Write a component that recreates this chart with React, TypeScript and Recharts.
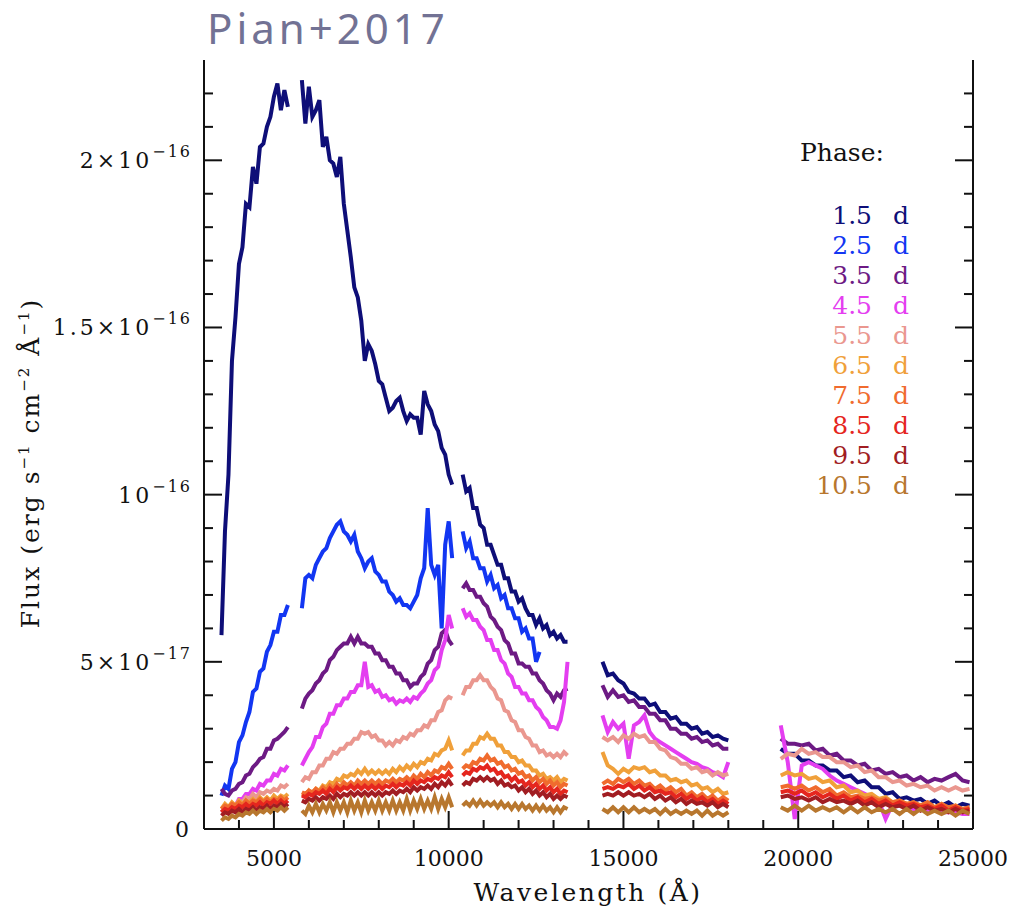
import React from 'react'
import { Legend, Line, LineChart, XAxis, YAxis } from 'recharts'

// wavelength samples (Å) of each spectral chunk; nothing is drawn between chunks
const wlChunk1 = [3500, 3600, 3700, 3800, 3900, 4000, 4100, 4200, 4300, 4400, 4500, 4600, 4700, 4800, 4900, 5000, 5100, 5200, 5300, 5400]
const wlChunk2 = [5800, 5900, 6000, 6100, 6200, 6300, 6400, 6500, 6600, 6700, 6800, 6900, 7000, 7100, 7200, 7300, 7400, 7500, 7600, 7700, 7800, 7900, 8000, 8100, 8200, 8300, 8400, 8500, 8600, 8700, 8800, 8900, 9000, 9100, 9200, 9300, 9400, 9500, 9600, 9700, 9800, 9900, 10000, 10100]
const wlChunk3 = [10400, 10500, 10600, 10700, 10800, 10900, 11000, 11100, 11200, 11300, 11400, 11500, 11600, 11700, 11800, 11900, 12000, 12100, 12200, 12300, 12400, 12500, 12600, 12700, 12800, 12900, 13000, 13100, 13200, 13300, 13400]
const wlChunk4 = [14400, 14550, 14700, 14850, 15000, 15150, 15300, 15450, 15600, 15750, 15900, 16050, 16200, 16350, 16500, 16650, 16800, 16950, 17100, 17250, 17400, 17550, 17700, 17850, 18000]
const wlChunk5 = [19500, 19700, 19900, 20100, 20300, 20500, 20700, 20900, 21100, 21300, 21500, 21700, 21900, 22100, 22300, 22500, 22700, 22900, 23100, 23300, 23500, 23700, 23900, 24100, 24300, 24500, 24700, 24900]
const wlChunks = [wlChunk1, wlChunk2, wlChunk3, wlChunk4, wlChunk5]

// flux density per chunk, in units of 1e-17 erg s^-1 cm^-2 Å^-1
const flux1p5 = [
  [5.8, 8.9, 10.6, 14.0, 15.3, 16.9, 17.4, 18.7, 18.6, 19.8, 19.3, 20.4, 20.5, 21.0, 21.3, 21.9, 22.3, 21.5, 22.1, 21.6],
  [22.4, 21.1, 22.2, 21.3, 21.5, 21.8, 20.4, 20.7, 20.0, 19.9, 19.5, 20.1, 18.7, 17.9, 17.1, 16.2, 15.9, 15.2, 14.0, 14.5, 14.3, 13.9, 13.4, 13.3, 12.9, 12.5, 12.6, 12.8, 12.9, 12.5, 12.2, 12.4, 12.3, 12.3, 11.8, 13.1, 12.7, 12.5, 12.1, 11.9, 11.4, 11.2, 10.6, 10.3],
  [10.6, 10.1, 10.2, 9.6, 9.6, 9.1, 9.0, 8.5, 8.5, 8.2, 7.9, 7.9, 7.5, 7.5, 7.1, 7.1, 6.8, 6.9, 6.6, 6.4, 6.4, 6.1, 6.3, 6.0, 6.1, 5.8, 5.9, 5.7, 5.8, 5.6, 5.6],
  [5.0, 4.6, 4.65, 4.45, 4.35, 4.1, 4.05, 3.9, 3.9, 3.7, 3.75, 3.5, 3.5, 3.3, 3.35, 3.15, 3.15, 3.0, 3.05, 2.85, 2.9, 2.75, 2.8, 2.7, 2.65],
  [2.4, 2.25, 2.25, 2.05, 2.05, 1.9, 1.9, 1.75, 1.75, 1.55, 1.6, 1.4, 1.45, 1.25, 1.25, 1.05, 1.1, 0.9, 0.95, 0.85, 0.9, 0.75, 0.85, 0.7, 0.8, 0.65, 0.75, 0.7],
]
const flux2p5 = [
  [1.0, 1.3, 1.2, 1.8, 2.0, 2.6, 2.8, 3.2, 3.5, 4.1, 4.2, 4.7, 4.8, 5.3, 5.5, 5.9, 5.9, 6.4, 6.4, 6.7],
  [6.6, 7.5, 7.6, 7.5, 7.9, 8.1, 8.3, 8.4, 8.7, 8.9, 9.1, 9.2, 8.9, 8.8, 8.6, 8.8, 8.3, 8.1, 7.8, 8.0, 8.1, 7.7, 7.6, 7.4, 7.4, 7.1, 7.0, 6.8, 6.9, 6.7, 6.7, 6.6, 6.8, 7.0, 7.5, 7.8, 9.6, 7.9, 7.6, 7.9, 6.0, 8.5, 9.2, 8.1],
  [8.9, 8.4, 8.6, 8.1, 8.1, 7.8, 7.8, 7.4, 7.6, 7.2, 7.3, 6.9, 7.0, 6.6, 6.6, 6.3, 6.3, 5.9, 6.0, 5.7, 5.7, 5.0, 5.3],
  [],
  [],
]
const flux3p5 = [
  [1.2, 1.05, 1.0, 1.15, 1.2, 1.35, 1.4, 1.6, 1.65, 1.85, 1.95, 2.1, 2.15, 2.4, 2.4, 2.65, 2.7, 2.8, 2.9, 3.05],
  [3.6, 3.9, 4.05, 4.15, 4.35, 4.45, 4.65, 4.75, 5.05, 5.15, 5.35, 5.45, 5.55, 5.55, 5.75, 5.55, 5.75, 5.55, 5.55, 5.45, 5.45, 5.25, 5.25, 5.05, 5.05, 4.85, 4.85, 4.65, 4.65, 4.45, 4.45, 4.25, 4.35, 4.35, 4.55, 4.65, 4.95, 5.05, 5.35, 5.45, 5.85, 5.95, 5.65, 5.5],
  [7.2, 7.35, 7.15, 7.15, 6.95, 6.95, 6.75, 6.65, 6.35, 6.25, 6.05, 5.95, 5.65, 5.55, 5.25, 5.25, 4.95, 4.95, 4.85, 4.85, 4.65, 4.65, 4.45, 4.35, 4.15, 4.05, 3.85, 4.05, 3.95, 4.15, 4.2],
  [4.3, 3.95, 4.15, 3.95, 4.0, 3.8, 3.85, 3.65, 3.65, 3.45, 3.45, 3.25, 3.25, 3.0, 3.0, 2.85, 2.85, 2.7, 2.75, 2.6, 2.65, 2.5, 2.55, 2.4, 2.4],
  [2.7, 2.55, 2.55, 2.5, 2.55, 2.35, 2.4, 2.2, 2.25, 2.05, 2.05, 1.9, 1.95, 1.75, 1.8, 1.65, 1.7, 1.55, 1.6, 1.45, 1.55, 1.4, 1.5, 1.45, 1.55, 1.65, 1.45, 1.4],
]
const flux4p5 = [
  [0.5, 0.6, 0.55, 0.75, 0.7, 0.9, 0.9, 1.05, 1.05, 1.2, 1.15, 1.35, 1.3, 1.45, 1.45, 1.65, 1.6, 1.8, 1.75, 1.9],
  [1.9, 2.1, 2.3, 2.45, 2.75, 2.75, 3.05, 3.15, 3.45, 3.45, 3.7, 3.7, 3.9, 3.9, 4.1, 4.1, 4.3, 4.3, 5.0, 4.25, 4.3, 4.1, 4.15, 3.95, 4.0, 3.85, 3.9, 3.75, 3.85, 3.8, 3.9, 3.8, 3.95, 3.9, 4.05, 4.15, 4.35, 4.45, 4.75, 4.85, 5.35, 5.65, 6.4, 6.0],
  [6.6, 6.35, 6.45, 6.25, 6.25, 6.05, 5.95, 5.65, 5.65, 5.35, 5.35, 5.05, 4.95, 4.65, 4.55, 4.25, 4.25, 4.05, 4.05, 3.85, 3.85, 3.65, 3.55, 3.35, 3.25, 3.05, 3.05, 3.0, 3.25, 3.8, 5.0],
  [3.4, 2.9, 3.2, 3.0, 3.15, 2.1, 3.1, 3.2, 3.4, 2.9, 2.7, 2.6, 2.5, 2.4, 2.3, 2.2, 2.1, 2.0, 1.95, 1.85, 1.8, 1.7, 1.65, 1.55, 2.0],
  [3.1, 2.0, 0.3, 1.9, 2.0, 1.9, 1.8, 1.6, 1.45, 1.35, 1.25, 1.15, 1.05, 0.95, 0.85, 0.3, 0.75, 0.7, 0.65, 0.6, 0.6, 0.55, 0.55, 0.5, 0.5, 0.5, 0.45, 0.45],
]
const flux5p5 = [
  [0.5, 0.6, 0.55, 0.7, 0.65, 0.85, 0.8, 0.95, 0.9, 1.05, 0.95, 1.1, 1.05, 1.15, 1.1, 1.2, 1.15, 1.3, 1.25, 1.35],
  [1.4, 1.55, 1.5, 1.7, 1.7, 1.9, 1.9, 2.1, 2.1, 2.3, 2.25, 2.4, 2.4, 2.55, 2.55, 2.7, 2.7, 2.9, 2.85, 2.9, 2.75, 2.8, 2.65, 2.65, 2.5, 2.6, 2.5, 2.65, 2.6, 2.75, 2.7, 2.85, 2.8, 2.95, 2.95, 3.1, 3.05, 3.25, 3.25, 3.5, 3.55, 3.85, 3.95, 3.9],
  [4.0, 4.25, 4.25, 4.45, 4.45, 4.6, 4.45, 4.45, 4.25, 4.15, 3.9, 3.85, 3.55, 3.5, 3.25, 3.2, 2.95, 2.95, 2.75, 2.7, 2.5, 2.5, 2.3, 2.35, 2.2, 2.25, 2.15, 2.25, 2.15, 2.3, 2.2],
  [2.75, 2.65, 2.75, 2.6, 2.8, 2.7, 2.85, 2.75, 2.8, 2.6, 2.6, 2.4, 2.35, 2.15, 2.1, 1.95, 1.95, 1.8, 1.85, 1.7, 1.75, 1.6, 1.7, 1.6, 1.65],
  [2.1, 2.25, 2.2, 2.4, 2.25, 2.3, 2.15, 2.15, 2.0, 2.0, 1.85, 1.9, 1.7, 1.75, 1.55, 1.55, 1.4, 1.45, 1.3, 1.35, 1.25, 1.3, 1.15, 1.25, 1.15, 1.25, 1.15, 1.2],
]
const flux6p5 = [
  [0.6, 0.75, 0.65, 0.8, 0.7, 0.85, 0.75, 0.85, 0.8, 0.9, 0.8, 0.95, 0.85, 0.95, 0.85, 1.0, 0.9, 1.0, 0.95, 1.05],
  [1.05, 1.0, 1.15, 1.05, 1.2, 1.15, 1.3, 1.25, 1.4, 1.35, 1.5, 1.45, 1.6, 1.55, 1.65, 1.6, 1.75, 1.65, 1.8, 1.65, 1.75, 1.65, 1.75, 1.65, 1.75, 1.65, 1.8, 1.7, 1.85, 1.75, 1.9, 1.8, 1.95, 1.85, 2.0, 1.95, 2.1, 2.05, 2.25, 2.2, 2.35, 2.4, 2.65, 2.35],
  [2.2, 2.35, 2.35, 2.55, 2.55, 2.75, 2.7, 2.85, 2.7, 2.7, 2.5, 2.5, 2.3, 2.3, 2.15, 2.15, 2.0, 2.05, 1.9, 1.9, 1.75, 1.75, 1.6, 1.65, 1.5, 1.55, 1.45, 1.55, 1.4, 1.5, 1.45],
  [2.3, 1.9, 1.8, 1.65, 1.8, 1.7, 1.85, 1.8, 1.85, 1.7, 1.75, 1.6, 1.6, 1.45, 1.5, 1.4, 1.45, 1.3, 1.35, 1.2, 1.25, 1.1, 1.2, 1.05, 1.1],
  [1.6, 1.7, 1.6, 1.65, 1.5, 1.55, 1.4, 1.45, 1.25, 1.3, 1.1, 1.15, 1.0, 1.05, 0.9, 0.95, 0.8, 0.85, 0.75, 0.8, 0.7, 0.8, 0.65, 0.75, 0.6, 0.7, 0.55, 0.65],
]
const flux7p5 = [
  [0.6, 0.7, 0.65, 0.75, 0.7, 0.8, 0.7, 0.85, 0.75, 0.85, 0.8, 0.9, 0.8, 0.9, 0.8, 0.9, 0.85, 0.95, 0.85, 0.95],
  [1.1, 1.05, 1.15, 1.1, 1.2, 1.1, 1.25, 1.15, 1.3, 1.2, 1.35, 1.25, 1.4, 1.3, 1.4, 1.3, 1.45, 1.35, 1.45, 1.35, 1.45, 1.35, 1.45, 1.35, 1.45, 1.4, 1.5, 1.4, 1.5, 1.45, 1.55, 1.45, 1.6, 1.5, 1.65, 1.55, 1.7, 1.6, 1.75, 1.7, 1.85, 1.8, 1.95, 1.8],
  [1.8, 1.9, 1.85, 2.0, 1.95, 2.1, 2.05, 2.2, 2.05, 2.1, 1.95, 2.0, 1.85, 1.9, 1.75, 1.8, 1.65, 1.7, 1.55, 1.6, 1.45, 1.55, 1.4, 1.5, 1.35, 1.45, 1.3, 1.4, 1.25, 1.35, 1.3],
  [1.35, 1.45, 1.35, 1.5, 1.4, 1.5, 1.35, 1.45, 1.3, 1.35, 1.2, 1.3, 1.15, 1.25, 1.1, 1.2, 1.0, 1.1, 0.95, 1.05, 0.9, 1.0, 0.85, 0.95, 0.85],
  [1.25, 1.3, 1.2, 1.3, 1.15, 1.25, 1.1, 1.2, 1.0, 1.1, 0.95, 1.0, 0.9, 0.95, 0.85, 0.9, 0.8, 0.85, 0.75, 0.8, 0.7, 0.8, 0.65, 0.75, 0.65, 0.7, 0.6, 0.65],
]
const flux8p5 = [
  [0.5, 0.6, 0.55, 0.65, 0.6, 0.7, 0.65, 0.75, 0.65, 0.75, 0.7, 0.8, 0.7, 0.8, 0.75, 0.85, 0.75, 0.85, 0.75, 0.85],
  [1.0, 0.95, 1.05, 1.0, 1.1, 1.05, 1.15, 1.05, 1.2, 1.1, 1.25, 1.15, 1.25, 1.2, 1.3, 1.2, 1.3, 1.2, 1.3, 1.2, 1.3, 1.2, 1.3, 1.2, 1.3, 1.25, 1.35, 1.25, 1.35, 1.3, 1.4, 1.3, 1.45, 1.35, 1.45, 1.4, 1.5, 1.45, 1.55, 1.5, 1.6, 1.55, 1.7, 1.55],
  [1.6, 1.7, 1.65, 1.8, 1.75, 1.85, 1.8, 1.9, 1.75, 1.8, 1.65, 1.7, 1.55, 1.6, 1.45, 1.55, 1.4, 1.45, 1.3, 1.4, 1.25, 1.35, 1.2, 1.3, 1.15, 1.25, 1.1, 1.2, 1.05, 1.15, 1.1],
  [1.2, 1.25, 1.2, 1.3, 1.25, 1.35, 1.2, 1.3, 1.15, 1.25, 1.1, 1.15, 1.05, 1.1, 0.95, 1.05, 0.9, 1.0, 0.85, 0.95, 0.8, 0.9, 0.75, 0.85, 0.75],
  [1.1, 1.15, 1.05, 1.15, 1.0, 1.1, 0.95, 1.05, 0.9, 1.0, 0.85, 0.95, 0.8, 0.9, 0.75, 0.85, 0.7, 0.8, 0.7, 0.75, 0.65, 0.7, 0.6, 0.7, 0.55, 0.65, 0.55, 0.6],
]
const flux9p5 = [
  [0.4, 0.5, 0.45, 0.55, 0.5, 0.6, 0.5, 0.6, 0.55, 0.65, 0.55, 0.65, 0.6, 0.7, 0.6, 0.7, 0.65, 0.75, 0.65, 0.75],
  [0.85, 0.8, 0.9, 0.85, 0.95, 0.85, 0.95, 0.9, 1.0, 0.9, 1.05, 0.95, 1.05, 1.0, 1.1, 1.0, 1.1, 1.0, 1.1, 1.0, 1.1, 1.0, 1.1, 1.0, 1.1, 1.05, 1.15, 1.05, 1.15, 1.1, 1.2, 1.1, 1.25, 1.15, 1.25, 1.2, 1.3, 1.2, 1.35, 1.25, 1.4, 1.3, 1.45, 1.3],
  [1.3, 1.4, 1.35, 1.5, 1.45, 1.55, 1.45, 1.55, 1.45, 1.5, 1.35, 1.45, 1.3, 1.35, 1.25, 1.3, 1.15, 1.25, 1.1, 1.2, 1.05, 1.15, 1.0, 1.1, 0.95, 1.05, 0.9, 1.0, 0.9, 1.0, 0.95],
  [1.0, 1.05, 1.0, 1.1, 1.0, 1.1, 1.0, 1.05, 0.95, 1.05, 0.9, 1.0, 0.85, 0.95, 0.8, 0.9, 0.75, 0.85, 0.75, 0.8, 0.7, 0.8, 0.65, 0.75, 0.65],
  [0.95, 1.0, 0.9, 0.95, 0.85, 0.95, 0.8, 0.9, 0.8, 0.85, 0.75, 0.85, 0.7, 0.8, 0.65, 0.75, 0.65, 0.7, 0.6, 0.7, 0.55, 0.65, 0.55, 0.6, 0.5, 0.6, 0.5, 0.55],
]
const flux10p5 = [
  [0.25, 0.35, 0.3, 0.4, 0.35, 0.45, 0.4, 0.5, 0.45, 0.55, 0.45, 0.55, 0.5, 0.6, 0.5, 0.6, 0.55, 0.65, 0.55, 0.65],
  [0.55, 0.45, 0.7, 0.5, 0.75, 0.5, 0.75, 0.55, 0.8, 0.5, 0.8, 0.55, 0.8, 0.5, 0.85, 0.55, 0.8, 0.5, 0.85, 0.55, 0.8, 0.55, 0.85, 0.55, 0.8, 0.55, 0.85, 0.55, 0.8, 0.55, 0.9, 0.55, 0.85, 0.6, 0.9, 0.6, 0.85, 0.6, 0.95, 0.6, 0.9, 0.65, 0.95, 0.65],
  [0.7, 0.8, 0.7, 0.85, 0.7, 0.85, 0.7, 0.8, 0.7, 0.8, 0.65, 0.8, 0.65, 0.75, 0.6, 0.75, 0.6, 0.75, 0.6, 0.7, 0.55, 0.7, 0.55, 0.7, 0.55, 0.65, 0.5, 0.65, 0.5, 0.65, 0.6],
  [0.6, 0.5, 0.65, 0.5, 0.65, 0.5, 0.65, 0.5, 0.6, 0.5, 0.6, 0.45, 0.6, 0.45, 0.55, 0.45, 0.55, 0.45, 0.55, 0.4, 0.55, 0.4, 0.5, 0.4, 0.5],
  [0.65, 0.55, 0.7, 0.55, 0.7, 0.55, 0.65, 0.55, 0.65, 0.5, 0.65, 0.5, 0.65, 0.5, 0.6, 0.5, 0.6, 0.45, 0.6, 0.45, 0.6, 0.45, 0.55, 0.45, 0.55, 0.4, 0.55, 0.45],
]

const phaseLabels = ['1.5', '2.5', '3.5', '4.5', '5.5', '6.5', '7.5', '8.5', '9.5', '10.5']
const phaseFlux = [flux1p5, flux2p5, flux3p5, flux4p5, flux5p5, flux6p5, flux7p5, flux8p5, flux9p5, flux10p5]
const phaseColors = ['#0e0e78', '#1236f2', '#6d1a84', '#e43ef0', '#ea978f', '#f0a03a', '#f06b2e', '#e5261e', '#a11d22', '#b8772e']

const xTicks = [4000, 5000, 6000, 7000, 8000, 9000, 10000, 11000, 12000, 13000, 14000, 15000, 16000, 17000, 18000, 19000, 20000, 21000, 22000, 23000, 24000, 25000]
const yTicks = [0, 1, 2, 3, 4, 5, 6, 7, 8, 9, 10, 11, 12, 13, 14, 15, 16, 17, 18, 19, 20, 21, 22]
// labelled y ticks: mantissa text and power of ten
const yTickText: Record<number, [string, string]> = {
  0: ['0', ''],
  5: ['5×10', '−17'],
  10: ['10', '−16'],
  15: ['1.5×10', '−16'],
  20: ['2×10', '−16'],
}

const keys = phaseLabels.map((_, i) => `p${i}`)

// one table for all phases, with an empty row after each chunk so the lines break
const rows: Record<string, number | null>[] = []
wlChunks.forEach((wls, c) => {
  wls.forEach((wl, i) => {
    const row: Record<string, number | null> = { wl }
    phaseFlux.forEach((f, p) => {
      row[keys[p]] = f[c][i] ?? null
    })
    rows.push(row)
  })
  if (c < wlChunks.length - 1) {
    const gap: Record<string, number | null> = { wl: wls[wls.length - 1] + 50 }
    keys.forEach((k) => (gap[k] = null))
    rows.push(gap)
  }
})

const FONT = '"DejaVu Serif", serif'
const INK = '#111'
const MAJOR = 18
const MINOR = 9

const BottomTick = (props: any) => {
  const { x, y, payload } = props
  const major = payload.value % 5000 === 0
  return (
    <g>
      <line x1={x} y1={y} x2={x} y2={y - (major ? MAJOR : MINOR)} stroke={INK} strokeWidth={2} />
      {major && (
        <text x={x} y={y + 37} textAnchor="middle" fontFamily={FONT} fontSize={22} fill={INK}>
          {payload.value}
        </text>
      )}
    </g>
  )
}

const TopTick = (props: any) => {
  const { x, y, payload } = props
  const major = payload.value % 5000 === 0
  return <line x1={x} y1={y} x2={x} y2={y + (major ? MAJOR : MINOR)} stroke={INK} strokeWidth={2} />
}

const LeftTick = (props: any) => {
  const { x, y, payload } = props
  const label = yTickText[payload.value]
  return (
    <g>
      <line x1={x} y1={y} x2={x + (label ? MAJOR : MINOR)} y2={y} stroke={INK} strokeWidth={2} />
      {label && (
        <text x={x - 12} y={y + 8} textAnchor="end" fontFamily={FONT} fontSize={22} letterSpacing={3} fill={INK}>
          <tspan>{label[0]}</tspan>
          {label[1] && (
            <tspan dy={-11} fontSize={16} letterSpacing={2}>
              {label[1]}
            </tspan>
          )}
        </text>
      )}
    </g>
  )
}

const RightTick = (props: any) => {
  const { x, y, payload } = props
  const major = payload.value % 5 === 0
  return <line x1={x} y1={y} x2={x - (major ? MAJOR : MINOR)} y2={y} stroke={INK} strokeWidth={2} />
}

// phase list in plotting order, drawn in the series colours
const PhaseLegend = () => (
  <svg width={150} height={380}>
    <text x={10} y={31} fontFamily={FONT} fontSize={25} fill={INK}>
      Phase:
    </text>
    {phaseLabels.map((label, i) => (
      <g key={label} fill={phaseColors[i]} fontFamily={FONT} fontSize={25}>
        <text x={82} y={94 + i * 30} textAnchor="end">
          {label}
        </text>
        <text x={103} y={94 + i * 30}>
          d
        </text>
      </g>
    ))}
  </svg>
)

const axisLine = { stroke: INK, strokeWidth: 2 }

export default function App() {
  return (
    <div style={{ position: 'relative', width: 1000, height: 900 }}>
      <div
        style={{
          position: 'absolute',
          left: 199,
          top: -1,
          fontFamily: '"Noto Sans", sans-serif',
          fontSize: 42,
          lineHeight: 1,
          letterSpacing: 4,
          color: '#727294',
        }}
      >
        Pian+2017
      </div>
      <LineChart width={1000} height={900} data={rows} margin={{ top: 52, right: 0, bottom: 0, left: 0 }}>
        <XAxis
          xAxisId="bottom"
          dataKey="wl"
          type="number"
          domain={[3000, 25000]}
          ticks={xTicks}
          interval={0}
          height={79}
          tickSize={0}
          tickMargin={0}
          tickLine={false}
          axisLine={axisLine}
          tick={<BottomTick />}
        />
        <XAxis
          xAxisId="top"
          orientation="top"
          dataKey="wl"
          type="number"
          domain={[3000, 25000]}
          ticks={xTicks}
          interval={0}
          height={0}
          tickSize={0}
          tickMargin={0}
          tickLine={false}
          axisLine={axisLine}
          tick={<TopTick />}
        />
        <YAxis
          yAxisId="left"
          type="number"
          domain={[0, 23]}
          ticks={yTicks}
          interval={0}
          width={196}
          tickSize={0}
          tickMargin={0}
          tickLine={false}
          axisLine={axisLine}
          tick={<LeftTick />}
        />
        <YAxis
          yAxisId="right"
          orientation="right"
          type="number"
          domain={[0, 23]}
          ticks={yTicks}
          interval={0}
          width={35}
          tickSize={0}
          tickMargin={0}
          tickLine={false}
          axisLine={axisLine}
          tick={<RightTick />}
        />
        <Legend
          layout="horizontal"
          verticalAlign="middle"
          align="center"
          wrapperStyle={{ position: 'absolute', left: 782, top: 122, width: 150, height: 380 }}
          content={<PhaseLegend />}
        />
        {/* invisible copy of the first spectrum, so the top and right frame axes get a scale */}
        <Line
          xAxisId="top"
          yAxisId="right"
          dataKey={keys[0]}
          stroke="none"
          strokeWidth={0}
          dot={false}
          activeDot={false}
          legendType="none"
          isAnimationActive={false}
        />
        {keys.map((k, i) => (
          <Line
            key={k}
            xAxisId="bottom"
            yAxisId="left"
            dataKey={k}
            name={phaseLabels[i]}
            type="linear"
            stroke={phaseColors[i]}
            strokeWidth={4}
            dot={false}
            activeDot={false}
            connectNulls={false}
            isAnimationActive={false}
          />
        ))}
      </LineChart>
      <div
        style={{
          position: 'absolute',
          left: 580,
          top: 884,
          transform: 'translate(-50%, -50%)',
          whiteSpace: 'nowrap',
          fontFamily: FONT,
          fontSize: 25,
          letterSpacing: 2.5,
          color: INK,
        }}
      >
        Wavelength (Å)
      </div>
      <div
        style={{
          position: 'absolute',
          left: 22,
          top: 455,
          transform: 'translate(-50%, -50%) rotate(-90deg)',
          whiteSpace: 'nowrap',
          fontFamily: FONT,
          fontSize: 25,
          letterSpacing: 2,
          color: INK,
        }}
      >
        Flux (erg s<sup style={{ fontSize: 15 }}>−1</sup> cm<sup style={{ fontSize: 15 }}>−2</sup> Å
        <sup style={{ fontSize: 15 }}>−1</sup>)
      </div>
    </div>
  )
}
